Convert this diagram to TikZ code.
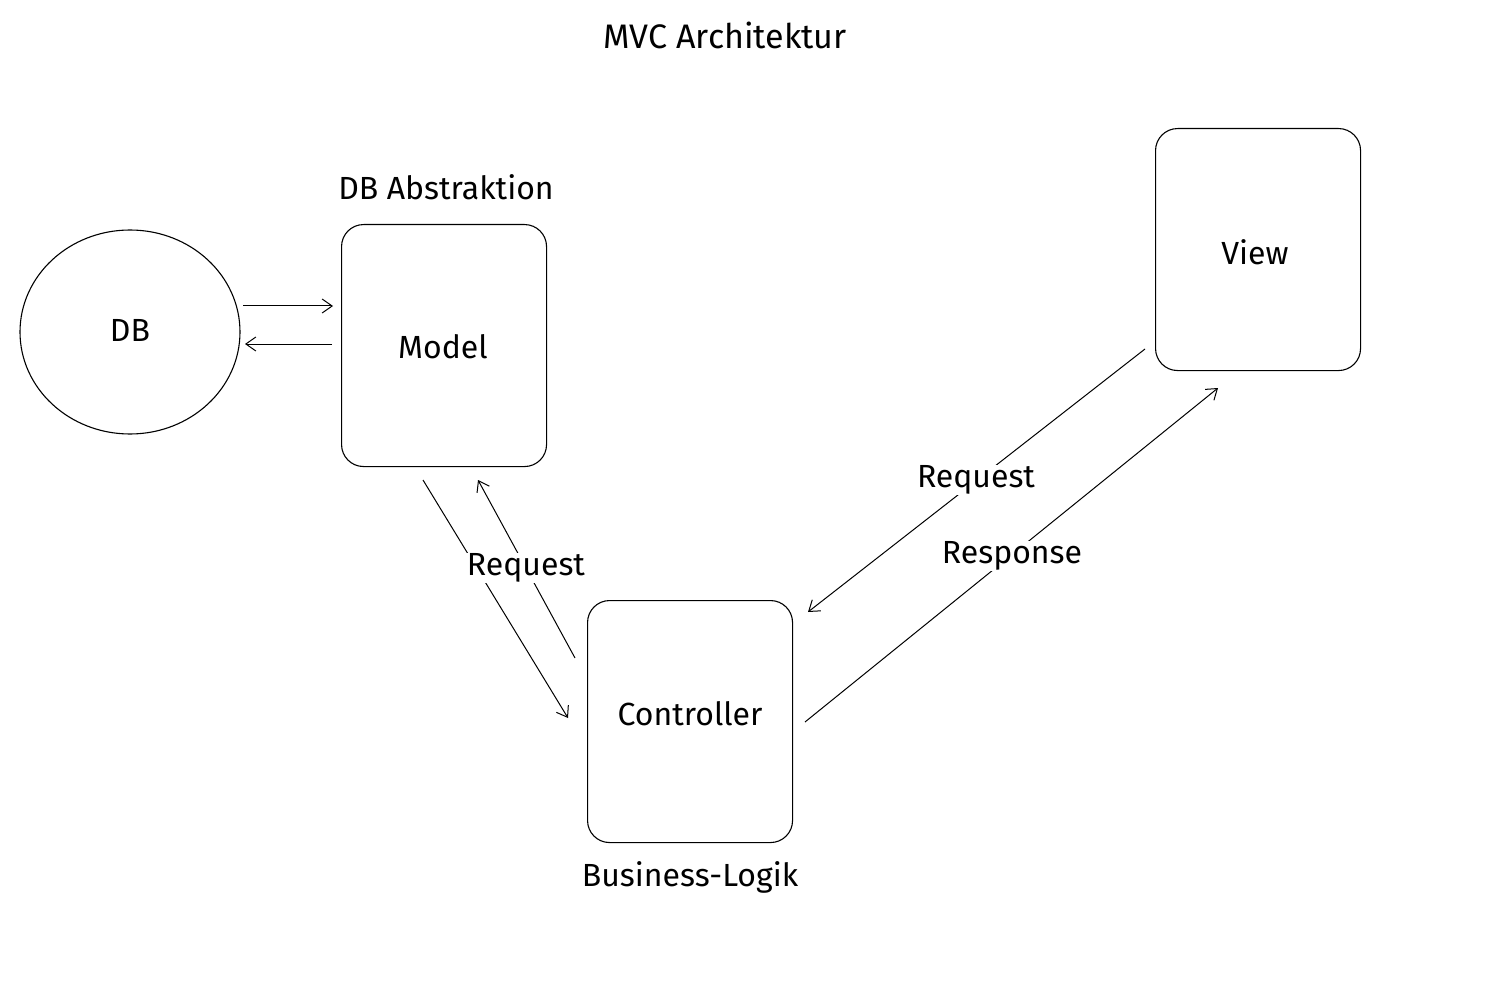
\documentclass[tikz,border=0pt]{standalone}
\usepackage{fontspec}
\setmainfont{Fira Sans}
\usetikzlibrary{arrows.meta,shapes.geometric}
\begin{document}
\begin{tikzpicture}[x=1pt,y=-1pt,
  box/.style={draw,line width=1.1pt,rounded corners=22pt,minimum width=205pt,minimum height=242pt,anchor=north west},
  lbl/.style={font=\fontsize{32}{36}\selectfont},
  arr/.style={draw,line width=1pt,-{Straight Barb[length=10pt,width=14pt]}}]
\useasboundingbox (0,0) rectangle (1494,984);
\node[lbl,font=\fontsize{34}{38}\selectfont] (title) at (725,35) {MVC Architektur};
\node[draw,ellipse,line width=1.1pt,minimum width=220pt,minimum height=204pt] (db) at (130,332) {};
\node[lbl] (dbl) at (130,330) {DB};
\node[box] (model) at (341,224) {};
\node[lbl] (ml) at (443,347) {Model};
\node[lbl] (mt) at (446,187) {DB Abstraktion};
\node[box] (view) at (1155,128) {};
\node[lbl] (vl) at (1255,252) {View};
\node[box] (ctrl) at (587,600) {};
\node[lbl] (cl) at (690,714) {Controller};
\node[lbl] (cb) at (690,877) {Business-Logik};
\coordinate (a1) at (243,306); \coordinate (a2) at (333,306);
\coordinate (b1) at (332,344); \coordinate (b2) at (245,344);
\coordinate (c1) at (423,480); \coordinate (c2) at (568,718);
\coordinate (d1) at (575,658); \coordinate (d2) at (478,480);
\coordinate (e1) at (1145,349); \coordinate (e2) at (808,612);
\coordinate (f1) at (805,722); \coordinate (f2) at (1218,388);
\draw[arr] (a1) -- (a2);
\draw[arr] (b1) -- (b2);
\draw[arr] (c1) -- (c2);
\draw[arr] (d1) -- (d2);
\draw[arr] (e1) -- (e2);
\draw[arr] (f1) -- (f2);
\node[lbl,fill=white,inner sep=1pt] (r1) at (526,568) {Request};
\node[lbl,fill=white,inner sep=1pt] (r2) at (976,480) {Request};
\node[lbl,fill=white,inner sep=1pt] (r3) at (1012,556) {Response};
\end{tikzpicture}
\end{document}
